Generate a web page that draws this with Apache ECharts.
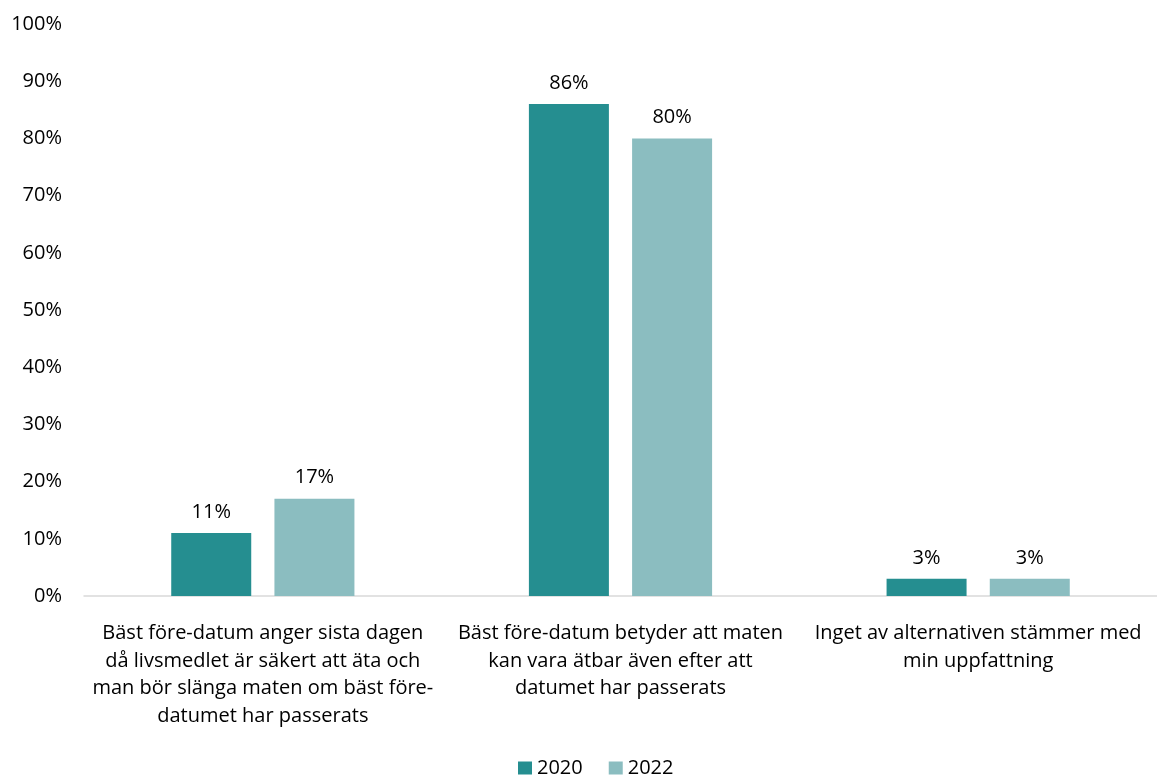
<!DOCTYPE html>
<html>
<head>
<meta charset="utf-8">
<style>
  html, body { margin: 0; padding: 0; background: #fff; }
  #chart { width: 1157px; height: 775px; }
</style>
<script src="https://cdn.jsdelivr.net/npm/echarts@6/dist/echarts.min.js"></script>
</head>
<body>
<div id="chart"></div>
<script>
// Answers to the statement about "bäst före-datum"
const categories = [
  'Bäst före-datum anger sista dagen\ndå livsmedlet är säkert att äta och\nman bör slänga maten om bäst före-\ndatumet har passerats',
  'Bäst före-datum betyder att maten\nkan vara ätbar även efter att\ndatumet har passerats',
  'Inget av alternativen stämmer med\nmin uppfattning'
];
const values2020 = [11, 86, 3];
const values2022 = [17, 80, 3];
const yTicks = [0, 10, 20, 30, 40, 50, 60, 70, 80, 90, 100];

const FONT = '"Open Sans", Lato, sans-serif';
const FS = 20;
const chart = echarts.init(document.getElementById('chart'));

const labelStyle = {
  show: true,
  position: 'top',
  distance: 11,
  formatter: p => p.value + '%',
  color: '#000',
  fontSize: FS,
  fontFamily: FONT
};

chart.setOption({
  animation: false,
  textStyle: { fontFamily: FONT },
  grid: { left: 84, right: 0, top: 24, bottom: 179, containLabel: false },
  legend: {
    top: 758,
    left: 518,
    padding: 0,
    itemWidth: 14,
    itemHeight: 13,
    itemGap: 26,
    icon: 'rect',
    textStyle: { fontSize: FS, lineHeight: 20, color: '#000', fontFamily: FONT },
    data: ['2020', '2022']
  },
  xAxis: {
    type: 'category',
    data: categories,
    axisLine: { lineStyle: { color: '#D9D9D9', width: 1.5 } },
    axisTick: { show: false },
    axisLabel: {
      interval: 0,
      color: '#000',
      fontSize: FS,
      lineHeight: 27.5,
      margin: 24,
      align: 'center',
      fontFamily: FONT
    }
  },
  yAxis: {
    type: 'value',
    min: yTicks[0],
    max: yTicks[yTicks.length - 1],
    interval: 10,
    splitLine: { show: false },
    axisLine: { show: false },
    axisTick: { show: false },
    axisLabel: {
      formatter: v => v + '%',
      color: '#000',
      fontSize: FS,
      margin: 22,
      fontFamily: FONT
    }
  },
  series: [
    {
      name: '2020',
      type: 'bar',
      data: values2020,
      barWidth: 80,
      barGap: '29%',
      itemStyle: { color: '#258E90' },
      label: labelStyle
    },
    {
      name: '2022',
      type: 'bar',
      data: values2022,
      barWidth: 80,
      barGap: '29%',
      itemStyle: { color: '#8BBDC0' },
      label: labelStyle
    }
  ]
});
</script>
</body>
</html>
